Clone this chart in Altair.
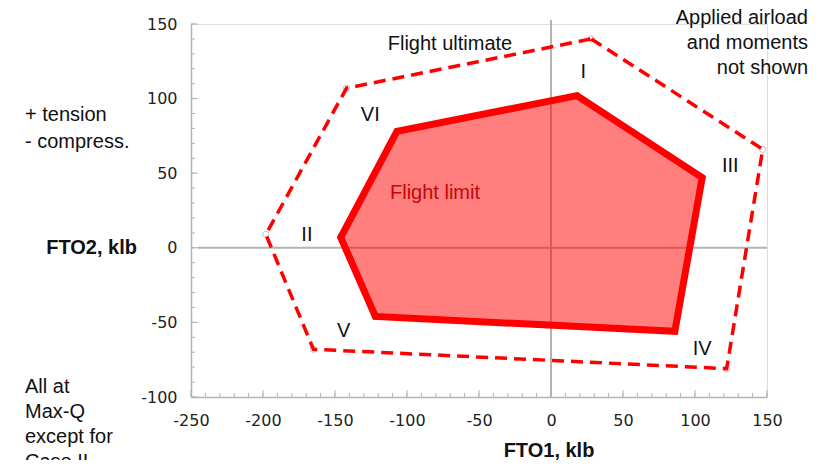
import altair as alt
import pandas as pd

# Flight limit envelope (solid, filled)
limit_case = ["I", "III", "IV", "V", "II", "VI"]
limit_fto1 = [18, 105, 86, -122, -146, -107]
limit_fto2 = [102, 47, -56, -46, 7, 78]

# Flight ultimate envelope (dashed)
ult_fto1 = [28, 147, 122, -165, -198, -142]
ult_fto2 = [140, 66, -81, -68, 9, 107]

# Axis ticks
major_ticks_x = [-250, -200, -150, -100, -50, 0, 50, 100, 150]
major_ticks_y = [-100, -50, 0, 50, 100, 150]
minor_ticks_x = list(range(-250, 151, 10))
minor_ticks_y = list(range(-100, 151, 10))

# Case labels (data coordinates)
case_labels = ["I", "III", "IV", "V", "II", "VI"]
case_lx = [22.5, 124.5, 105, -144, -169.5, -125.5]
case_ly = [118, 54.5, -67.5, -55.5, 8.5, 89]

W, H = 576, 373
FONT = "Liberation Sans"
GRAY = "#b3b3b3"

limit_df = pd.DataFrame({"case": limit_case, "fto1": limit_fto1, "fto2": limit_fto2,
                         "ord": list(range(len(limit_case)))})
ult_df = pd.DataFrame({"fto1": ult_fto1, "fto2": ult_fto2, "ord": list(range(len(ult_fto1)))})

xs = alt.Scale(domain=[-250, 150], nice=False, zero=False)
ys = alt.Scale(domain=[-100, 150], nice=False, zero=False)

x_axis = alt.Axis(values=major_ticks_x, title=None, grid=False, ticks=False, tickSize=0,
                  domainColor=GRAY, domainWidth=1.5, labelFont="DejaVu Sans",
                  labelFontSize=16, labelColor="#222", labelPadding=15, labelFlush=False,
                  labelExpr="toString(datum.value)")
y_axis = alt.Axis(values=major_ticks_y, title=None, grid=False, ticks=False, tickSize=0,
                  domainColor=GRAY, domainWidth=1.5, labelFont="DejaVu Sans",
                  labelFontSize=16, labelColor="#222", labelPadding=14, labelFlush=False,
                  labelExpr="toString(datum.value)")

base = alt.Chart(limit_df)

axes = alt.Chart(pd.DataFrame({"fto1": [0], "fto2": [0]})).mark_point(opacity=0).encode(
    x=alt.X("fto1:Q", scale=xs, axis=x_axis),
    y=alt.Y("fto2:Q", scale=ys, axis=y_axis),
)

zero_h = alt.Chart(pd.DataFrame({"v": [0]})).mark_rule(color=GRAY, strokeWidth=2).encode(
    y=alt.Y("v:Q", scale=ys), x=alt.value(7), x2=alt.value(W))
zero_v = alt.Chart(pd.DataFrame({"v": [0]})).mark_rule(color=GRAY, strokeWidth=2).encode(
    x=alt.X("v:Q", scale=xs), y=alt.value(-4), y2=alt.value(H))

xt_major = alt.Chart(pd.DataFrame({"t": major_ticks_x})).mark_rule(color=GRAY, strokeWidth=1).encode(
    x=alt.X("t:Q", scale=xs), y=alt.value(H), y2=alt.value(H - 7))
xt_minor = alt.Chart(pd.DataFrame({"t": minor_ticks_x})).mark_rule(color=GRAY, strokeWidth=1).encode(
    x=alt.X("t:Q", scale=xs), y=alt.value(H), y2=alt.value(H - 4))
yt_major = alt.Chart(pd.DataFrame({"t": major_ticks_y})).mark_rule(color=GRAY, strokeWidth=1).encode(
    y=alt.Y("t:Q", scale=ys), x=alt.value(0), x2=alt.value(7))
yt_minor = alt.Chart(pd.DataFrame({"t": minor_ticks_y})).mark_rule(color=GRAY, strokeWidth=1).encode(
    y=alt.Y("t:Q", scale=ys), x=alt.value(0), x2=alt.value(4))

limit_fill = base.mark_line(interpolate="linear-closed", fill="#ff0000", fillOpacity=0.5,
                            stroke="#ff0000", strokeWidth=7, strokeJoin="miter").encode(
    x=alt.X("fto1:Q", scale=xs), y=alt.Y("fto2:Q", scale=ys), order="ord:Q")

pts_limit = base.mark_point(shape="circle", size=40, filled=False, color="#888", strokeWidth=1).encode(
    x=alt.X("fto1:Q", scale=xs), y=alt.Y("fto2:Q", scale=ys))
pts_ult = alt.Chart(ult_df).mark_point(shape="circle", size=40, filled=False, color="#aaa", strokeWidth=1).encode(
    x=alt.X("fto1:Q", scale=xs), y=alt.Y("fto2:Q", scale=ys))

ult_line = alt.Chart(ult_df).mark_line(interpolate="linear-closed", color="#ff0000", strokeWidth=3.5,
                                       strokeDash=[12, 7]).encode(
    x=alt.X("fto1:Q", scale=xs), y=alt.Y("fto2:Q", scale=ys), order="ord:Q")

case_df = pd.DataFrame({"label": case_labels, "x": case_lx, "y": case_ly})
case_text = alt.Chart(case_df).mark_text(font=FONT, fontSize=20, color="#111").encode(
    x=alt.X("x:Q", scale=xs), y=alt.Y("y:Q", scale=ys), text="label:N")


def txt(s, px, py, align="center", bold=False, color="#111"):
    return alt.Chart(pd.DataFrame({"t": [s]})).mark_text(
        font=FONT, fontSize=20, align=align, baseline="middle", color=color,
        fontWeight="bold" if bold else "normal").encode(
        text="t:N", x=alt.value(px), y=alt.value(py))


ox, oy = 191, 24
annots = [
    txt("Flight ultimate", 450 - ox, 44 - oy),
    txt("Flight limit", 435 - ox, 193 - oy, color="#7f1010"),
    txt("Applied airload", 808 - ox, 18 - oy, align="right"),
    txt("and moments", 808 - ox, 43 - oy, align="right"),
    txt("not shown", 808 - ox, 68 - oy, align="right"),
    txt("+ tension", 25 - ox, 115 - oy, align="left"),
    txt("- compress.", 25 - ox, 142 - oy, align="left"),
    txt("FTO2, klb", 137 - ox, 248 - oy, align="right", bold=True),
    txt("FTO1, klb", 549 - ox, 451 - oy, bold=True),
    txt("All at", 25 - ox, 387 - oy, align="left"),
    txt("Max-Q", 25 - ox, 412 - oy, align="left"),
    txt("except for", 25 - ox, 437 - oy, align="left"),
    txt("Case II", 25 - ox, 462 - oy, align="left"),
]

chart = alt.layer(
    axes, zero_h, zero_v, xt_major, xt_minor, yt_major, yt_minor,
    pts_ult, pts_limit, annots[1], limit_fill, ult_line, case_text,
    *[a for i, a in enumerate(annots) if i != 1]
).properties(
    width=W, height=H,
    autosize="none",
    padding={"left": 183, "top": 16, "right": 54, "bottom": 63},
).configure_view(stroke=None).configure(background="white")

chart.save("out.html", embed_options={"renderer": "svg", "actions": False})
